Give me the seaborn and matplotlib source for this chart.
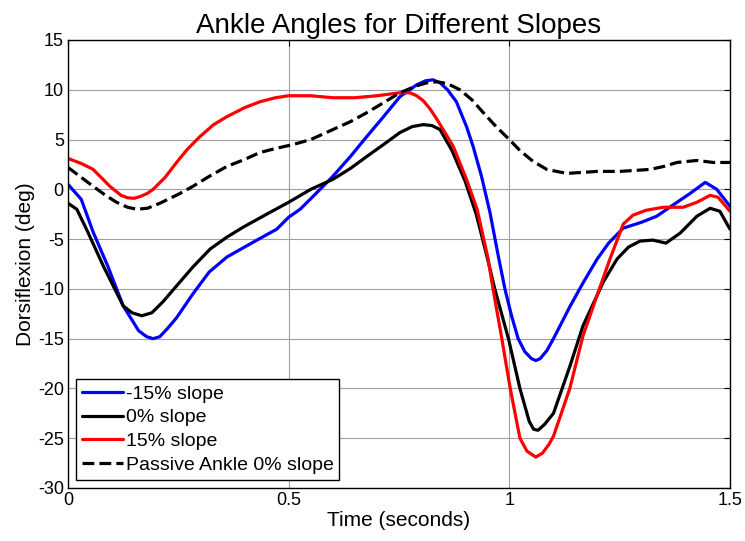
import seaborn as sns
import matplotlib.pyplot as plt

sns.set_theme(style="white")
plt.rcParams['font.family'] = ['Liberation Sans', 'DejaVu Sans']
plt.rcParams['axes.unicode_minus'] = False
plt.rcParams['text.color'] = 'black'

# -15% slope
t_neg15 = [0, 0.03, 0.057, 0.09, 0.125, 0.16, 0.178, 0.193, 0.208, 0.225, 0.246, 0.283,
           0.32, 0.36, 0.42, 0.473, 0.5, 0.526, 0.56, 0.6, 0.64, 0.677, 0.715, 0.752,
           0.79, 0.81, 0.827, 0.843, 0.86, 0.88, 0.903, 0.918, 0.937, 0.956, 0.975, 0.99,
           1.005, 1.02, 1.035, 1.05, 1.06, 1.07, 1.085, 1.1, 1.137, 1.167, 1.199, 1.225,
           1.258, 1.3, 1.334, 1.37, 1.41, 1.444, 1.47, 1.5]
neg15 = [0.5, -1.0, -4.3, -7.7, -11.7, -14.2, -14.8, -15.0, -14.8, -14.0, -12.9, -10.5,
         -8.3, -6.8, -5.3, -4.0, -2.8, -2.0, -0.5, 1.3, 3.3, 5.3, 7.3, 9.3,
         10.5, 10.9, 11.0, 10.7, 10.0, 8.8, 6.3, 4.3, 1.3, -2.3, -6.7, -10.0,
         -12.7, -15.0, -16.3, -17.0, -17.2, -17.0, -16.2, -15.0, -11.8, -9.4, -7.0, -5.4,
         -3.9, -3.3, -2.7, -1.6, -0.4, 0.7, 0.0, -1.7]

# 0% slope
t_zero = [0, 0.02, 0.045, 0.08, 0.125, 0.145, 0.167, 0.19, 0.215, 0.246, 0.283, 0.322,
          0.36, 0.397, 0.45, 0.5, 0.55, 0.6, 0.64, 0.677, 0.715, 0.752, 0.78, 0.805,
          0.825, 0.843, 0.87, 0.9, 0.925, 0.948, 0.967, 0.998, 1.024, 1.045, 1.055,
          1.065, 1.08, 1.1, 1.137, 1.167, 1.213, 1.244, 1.27, 1.296, 1.325, 1.355,
          1.387, 1.425, 1.455, 1.477, 1.5]
zero = [-1.4, -2.0, -4.3, -7.7, -11.7, -12.4, -12.7, -12.4, -11.3, -9.7, -7.8, -6.0,
        -4.8, -3.8, -2.5, -1.3, 0.0, 1.0, 2.1, 3.3, 4.5, 5.7, 6.3, 6.5,
        6.4, 6.0, 3.9, 0.8, -2.5, -6.5, -10.0, -15.0, -20.0, -23.3, -24.1,
        -24.2, -23.6, -22.5, -17.8, -13.7, -9.3, -7.0, -5.8, -5.2, -5.1, -5.4,
        -4.4, -2.7, -1.9, -2.2, -4.0]

# 15% slope
t_pos15 = [0, 0.03, 0.057, 0.095, 0.12, 0.135, 0.15, 0.165, 0.18, 0.193, 0.22, 0.246,
           0.27, 0.299, 0.33, 0.36, 0.4, 0.435, 0.47, 0.5, 0.55, 0.6, 0.65, 0.7,
           0.752, 0.775, 0.79, 0.805, 0.82, 0.835, 0.85, 0.873, 0.903, 0.927, 0.941,
           0.952, 0.963, 0.983, 1.002, 1.024, 1.04, 1.06, 1.075, 1.09, 1.1, 1.137, 1.167,
           1.2, 1.228, 1.258, 1.28, 1.31, 1.349, 1.394, 1.425, 1.455, 1.473, 1.5]
pos15 = [3.1, 2.6, 2.0, 0.3, -0.6, -0.85, -0.9, -0.7, -0.4, 0.0, 1.2, 2.7,
         4.0, 5.3, 6.5, 7.3, 8.2, 8.8, 9.2, 9.4, 9.4, 9.2, 9.2, 9.4,
         9.7, 9.7, 9.4, 8.9, 8.1, 7.1, 6.0, 4.3, 1.0, -2.0, -4.8,
         -7.0, -10.0, -15.0, -20.0, -25.0, -26.3, -26.9, -26.5, -25.6, -24.8, -20.0, -14.7,
         -10.5, -7.0, -3.5, -2.6, -2.1, -1.8, -1.8, -1.3, -0.6, -0.8, -2.2]

# Passive ankle, 0% slope
t_passive = [0, 0.03, 0.057, 0.085, 0.11, 0.135, 0.156, 0.18, 0.208, 0.25, 0.283, 0.32,
             0.36, 0.4, 0.435, 0.47, 0.51, 0.55, 0.6, 0.64, 0.677, 0.715, 0.752, 0.79,
             0.813, 0.835, 0.85, 0.87, 0.888, 0.915, 0.941, 0.97, 1.0, 1.024, 1.054,
             1.085, 1.13, 1.2, 1.25, 1.319, 1.35, 1.38, 1.425, 1.462, 1.5]
passive = [2.2, 1.2, 0.3, -0.6, -1.3, -1.8, -2.0, -1.9, -1.4, -0.5, 0.3, 1.3,
           2.3, 3.0, 3.7, 4.1, 4.5, 5.0, 6.0, 6.8, 7.7, 8.7, 9.7, 10.4,
           10.7, 10.8, 10.7, 10.4, 10.0, 9.0, 7.7, 6.3, 5.0, 3.9, 2.8,
           2.0, 1.6, 1.8, 1.8, 2.0, 2.3, 2.7, 2.9, 2.7, 2.7]

x_ticks = [0, 0.5, 1, 1.5]
x_tick_labels = ["0", "0.5", "1", "1.5"]
y_ticks = list(range(-30, 16, 5))

fig = plt.figure(figsize=(7.45, 5.41), dpi=100)
ax = fig.add_axes([68 / 745, 1 - 488 / 541, 662 / 745, 448 / 541])

lw = 2.3
sns.lineplot(x=t_neg15, y=neg15, color="#0000ff", linewidth=lw, label="-15% slope", ax=ax)
sns.lineplot(x=t_zero, y=zero, color="black", linewidth=lw, label="0% slope", ax=ax)
sns.lineplot(x=t_pos15, y=pos15, color="#ff0000", linewidth=lw, label="15% slope", ax=ax)
sns.lineplot(x=t_passive, y=passive, color="black", linewidth=lw, linestyle="--",
             label="Passive Ankle 0% slope", ax=ax)

ax.set_xlim(0, 1.5)
ax.set_ylim(-30, 15)
ax.set_xticks(x_ticks)
ax.set_xticklabels(x_tick_labels)
ax.set_yticks(y_ticks)
ax.grid(True, color="#a0a0a0", linewidth=0.8)
ax.set_axisbelow(True)
for s in ax.spines.values():
    s.set_color("black")
    s.set_linewidth(1.0)
ax.tick_params(direction="in", length=4, width=0.8, color="black", labelsize=13,
               top=True, right=True, pad=3, labelcolor="black")

ax.set_title("Ankle Angles for Different Slopes", fontsize=20, color="black", pad=5)
ax.set_xlabel("Time (seconds)", fontsize=15, color="black", labelpad=1)
ax.set_ylabel("Dorsiflexion (deg)", fontsize=15, color="black", labelpad=2)

leg = ax.legend(loc="lower left", bbox_to_anchor=(0.012, 0.018), fontsize=14,
                frameon=True, fancybox=False, shadow=False, framealpha=1,
                borderpad=0.3, labelspacing=0.32, handlelength=2.1,
                handletextpad=0.15, borderaxespad=0)
leg.get_frame().set_edgecolor("black")
leg.get_frame().set_linewidth(1.0)
for txt in leg.get_texts():
    txt.set_color("black")

fig.savefig("out.png", dpi=100)
